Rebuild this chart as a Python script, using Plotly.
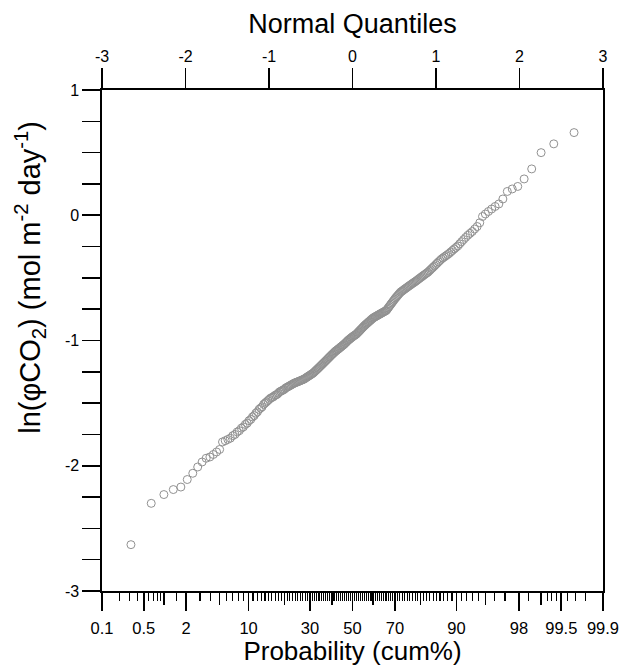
import plotly.graph_objects as go
from statistics import NormalDist

values = [
    -2.63, -2.30, -2.23, -2.19, -2.17, -2.11, -2.06, -2.01, -1.97, -1.94,
    -1.93, -1.91, -1.89, -1.87, -1.81, -1.80, -1.79, -1.78, -1.76, -1.75,
    -1.73, -1.72, -1.70, -1.69, -1.67, -1.66, -1.64, -1.63, -1.61, -1.60,
    -1.58, -1.57, -1.55, -1.54, -1.53, -1.51, -1.50, -1.49, -1.48, -1.47,
    -1.46, -1.455, -1.45, -1.44, -1.435, -1.43, -1.42, -1.41, -1.405, -1.40,
    -1.395, -1.39, -1.38, -1.375, -1.37, -1.365, -1.36, -1.355, -1.35, -1.345,
    -1.34, -1.337, -1.334, -1.33, -1.327, -1.324, -1.32, -1.317, -1.313, -1.31,
    -1.306, -1.30, -1.295, -1.29, -1.285, -1.28, -1.275, -1.27, -1.265, -1.26,
    -1.253, -1.246, -1.239, -1.232, -1.225, -1.218, -1.211, -1.204, -1.197, -1.19,
    -1.183, -1.176, -1.169, -1.162, -1.155, -1.148, -1.141, -1.134, -1.127, -1.12,
    -1.113, -1.107, -1.100, -1.094, -1.087, -1.082, -1.077, -1.071, -1.066, -1.06,
    -1.055, -1.049, -1.044, -1.038, -1.033, -1.027, -1.02, -1.014, -1.007, -1.00,
    -0.995, -0.989, -0.984, -0.978, -0.973, -0.968, -0.963, -0.959, -0.954, -0.95,
    -0.943, -0.936, -0.929, -0.922, -0.915, -0.908, -0.901, -0.894, -0.887, -0.88,
    -0.874, -0.868, -0.862, -0.856, -0.85, -0.844, -0.838, -0.832, -0.826, -0.82,
    -0.816, -0.812, -0.808, -0.804, -0.80, -0.796, -0.792, -0.788, -0.784, -0.78,
    -0.776, -0.772, -0.768, -0.764, -0.76, -0.75, -0.74, -0.73, -0.72, -0.71,
    -0.70, -0.69, -0.68, -0.67, -0.66, -0.651, -0.642, -0.633, -0.624, -0.615,
    -0.609, -0.603, -0.597, -0.591, -0.585, -0.579, -0.573, -0.567, -0.561, -0.555,
    -0.549, -0.543, -0.537, -0.531, -0.525, -0.518, -0.511, -0.504, -0.497, -0.49,
    -0.483, -0.476, -0.469, -0.462, -0.455, -0.445, -0.435, -0.425, -0.415, -0.405,
    -0.394, -0.383, -0.372, -0.361, -0.35, -0.341, -0.332, -0.323, -0.314, -0.305,
    -0.293, -0.281, -0.269, -0.257, -0.245, -0.228, -0.211, -0.194, -0.177, -0.16,
    -0.145, -0.13, -0.11, -0.09, -0.06, -0.01, 0.01, 0.03, 0.05, 0.07,
    0.09, 0.13, 0.19, 0.21, 0.23, 0.29, 0.37, 0.50, 0.57, 0.66,
]

quantile_ticks = [-3, -2, -1, 0, 1, 2, 3]
prob_labels = [0.1, 0.5, 2, 10, 30, 50, 70, 90, 98, 99.5, 99.9]
prob_medium = [1, 5, 20, 40, 60, 80, 95, 99]
prob_minor = ([0.2, 0.3, 0.4, 0.6, 0.7, 0.8, 0.9, 1.5, 3, 4, 6, 7, 8, 9]
              + [p for p in range(11, 95) if p % 10 != 0 and p not in (30, 50, 70)]
              + [96, 97, 98.5, 99.2, 99.3, 99.4, 99.6, 99.7, 99.8])
value_ticks = [-3, -2, -1, 0, 1]

y_title = "ln(\u03c6CO<sub>2</sub>) (mol m<sup>-2</sup> day<sup>-1</sup>)"

nd = NormalDist()
n = len(values)
zq = [nd.inv_cdf((i + 1) / (n + 1)) for i in range(n)]


def z(p):
    return nd.inv_cdf(p / 100.0)


def fmt(p):
    return ("%g" % p)


font = "Liberation Sans, Arial, sans-serif"

fig = go.Figure()
fig.add_trace(go.Scatter(
    x=zq, y=values, mode="markers", xaxis="x", yaxis="y",
    marker=dict(symbol="circle-open", size=8, color="rgb(145,145,145)",
                line=dict(width=1, color="rgb(145,145,145)")),
    showlegend=False, hoverinfo="skip"))
fig.add_trace(go.Scatter(x=[], y=[], xaxis="x2", yaxis="y", showlegend=False))
fig.add_trace(go.Scatter(x=[], y=[], xaxis="x3", yaxis="y", showlegend=False))

fig.update_layout(
    width=622, height=666,
    margin=dict(l=102, r=19, t=90, b=75, autoexpand=False),
    paper_bgcolor="white", plot_bgcolor="white",
    font=dict(family=font, color="black", size=16),
    xaxis=dict(
        side="top", range=[-3, 3], tickmode="array", tickvals=quantile_ticks,
        ticktext=[str(v) for v in quantile_ticks],
        ticks="outside", ticklen=20, tickwidth=1.6, tickcolor="black",
        showline=True, linewidth=1.6, linecolor="black",
        showgrid=False, zeroline=False, automargin=False,
        tickfont=dict(size=16), ticklabeloverflow="allow",
        title=dict(text="Normal Quantiles", font=dict(size=27), standoff=6),
    ),
    xaxis2=dict(
        overlaying="x", side="bottom", anchor="y",
        range=[z(0.1), z(99.9)], tickmode="array",
        tickvals=[z(p) for p in prob_labels],
        ticktext=[fmt(p) for p in prob_labels],
        ticks="outside", ticklen=18, tickwidth=1.6, tickcolor="black",
        showline=True, linewidth=1.6, linecolor="black",
        showgrid=False, zeroline=False, automargin=False,
        tickfont=dict(size=16.5), ticklabeloverflow="allow",
        ticklabelstandoff=4,
        minor=dict(tickmode="array", tickvals=[z(p) for p in prob_minor],
                   ticks="outside", ticklen=8, tickwidth=1.2, tickcolor="black",
                   showgrid=False),
        title=dict(text="Probability (cum%)", font=dict(size=26), standoff=8),
    ),
    xaxis3=dict(
        overlaying="x", side="bottom", anchor="y",
        range=[z(0.1), z(99.9)], tickmode="array",
        tickvals=[z(p) for p in prob_medium],
        ticks="outside", ticklen=13, tickwidth=1.3, tickcolor="black",
        showticklabels=False, showline=False, showgrid=False, zeroline=False,
        automargin=False,
    ),
    yaxis=dict(
        range=[-3, 1], tickmode="array", tickvals=value_ticks,
        ticktext=[str(v) for v in value_ticks],
        ticks="outside", ticklen=18, tickwidth=1.6, tickcolor="black",
        showline=True, linewidth=1.6, linecolor="black", mirror=True,
        showgrid=False, zeroline=False, automargin=False,
        tickfont=dict(size=16),
        minor=dict(dtick=0.25, ticks="outside", ticklen=18, tickwidth=1.6,
                   tickcolor="black", showgrid=False),
    ),
    annotations=[dict(
        text=y_title, textangle=-90, showarrow=False,
        xref="paper", yref="paper", x=-0.144, y=0.627,
        xanchor="center", yanchor="middle",
        font=dict(size=29, family=font, color="black"),
    )],
)

fig.write_html("out.html",
               config={"displayModeBar": False, "staticPlot": True},
               post_script="document.body.style.margin='0';"
                           "document.body.style.overflow='hidden';")
